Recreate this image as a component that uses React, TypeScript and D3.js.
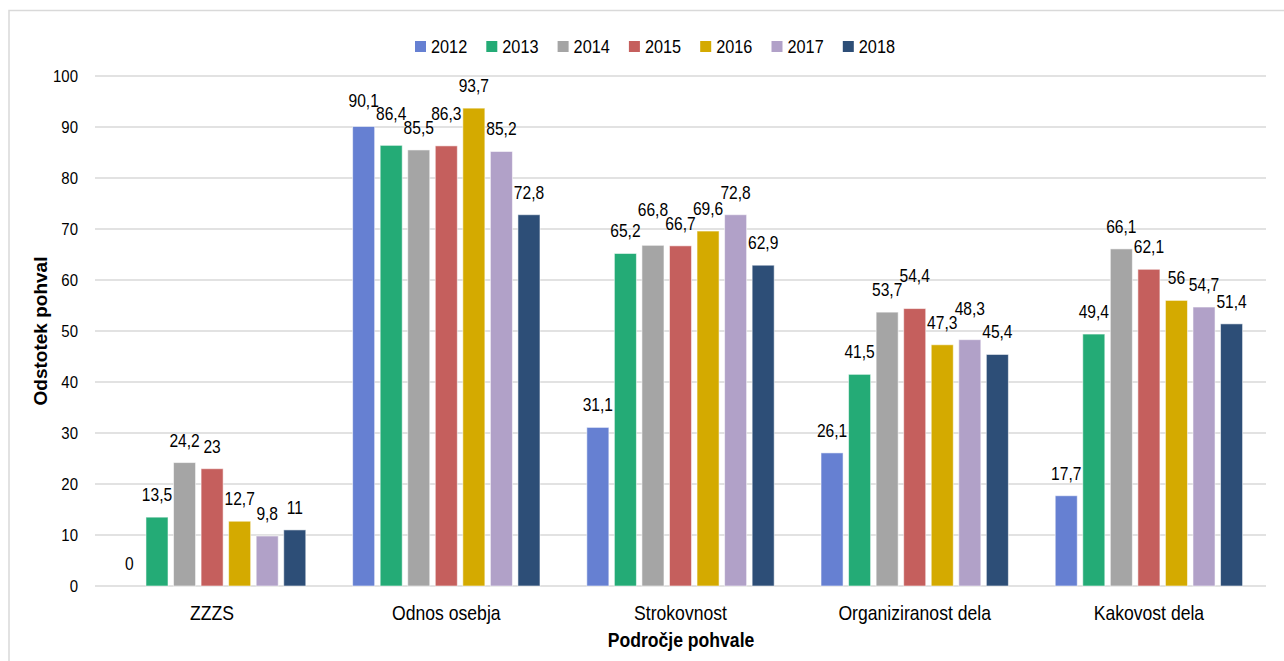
import React from "react";
import * as d3 from "d3";

const categories = ["ZZZS", "Odnos osebja", "Strokovnost", "Organiziranost dela", "Kakovost dela"];
const years = ["2012", "2013", "2014", "2015", "2016", "2017", "2018"];
const colors = ["#6680D2", "#24AB76", "#A5A5A5", "#C55F5D", "#D4AA00", "#B1A1C8", "#2D4E77"];
const v2012 = [0, 90.1, 31.1, 26.1, 17.7];
const v2013 = [13.5, 86.4, 65.2, 41.5, 49.4];
const v2014 = [24.2, 85.5, 66.8, 53.7, 66.1];
const v2015 = [23, 86.3, 66.7, 54.4, 62.1];
const v2016 = [12.7, 93.7, 69.6, 47.3, 56];
const v2017 = [9.8, 85.2, 72.8, 48.3, 54.7];
const v2018 = [11, 72.8, 62.9, 45.4, 51.4];
const series = [v2012, v2013, v2014, v2015, v2016, v2017, v2018];
const yTicks = [0, 10, 20, 30, 40, 50, 60, 70, 80, 90, 100];
const yTitle = "Odstotek pohval";
const xTitle = "Področje pohvale";

const W = 1284, H = 661;
const left = 95, right = 1266, top = 76, bottom = 586;
const SQ = 0.88;
const FONT = "'Liberation Sans', Arial, sans-serif";

const fmt = (v: number) => String(v).replace(".", ",");
const estWidth = (s: string, size: number) => {
  let w = 0;
  for (const c of s) w += c === "," ? 0.278 : 0.556;
  return w * size * SQ;
};

function T(props: { x: number; y: number; size: number; anchor?: string; weight?: string; children: any }) {
  const { x, y, size, anchor = "middle", weight = "normal", children } = props;
  return (
    <text transform={`translate(${x},${y}) scale(${SQ},1)`} fontSize={size} textAnchor={anchor}
      fontWeight={weight} fontFamily={FONT} fill="#000">{children}</text>
  );
}

export default function App() {
  const x0 = d3.scaleBand().domain(categories).range([left, right]).paddingInner(0).paddingOuter(0);
  const x1 = d3.scaleBand().domain(years).range([0, x0.bandwidth()]).paddingInner(0.2).paddingOuter(0.85);
  const y = d3.scaleLinear().domain([0, 100]).range([bottom, top]);

  const LS = 17.7;
  const CAP = 12.7;
  type Lab = { x: number; bl: number; w: number; text: string };
  const labels: Lab[] = [];
  categories.forEach((c, ci) => {
    const items = years.map((yr, si) => ({ si, v: series[si][ci] }));
    const order = [...items].sort((a, b) => a.v - b.v || a.si - b.si);
    const placed: Lab[] = [];
    order.forEach(({ si, v }) => {
      const text = fmt(v);
      const cx = (x0(c) as number) + (x1(years[si]) as number) + x1.bandwidth() / 2;
      const w = estWidth(text, LS) - 2;
      let bl = y(v) - 16;
      let moved = true;
      while (moved) {
        moved = false;
        for (const p of placed) {
          const xo = Math.min(cx + w / 2, p.x + p.w / 2) - Math.max(cx - w / 2, p.x - p.w / 2);
          const yo = Math.min(bl, p.bl) - Math.max(bl - CAP, p.bl - CAP);
          if (xo > 0 && yo > -1) {
            bl = p.bl - CAP - 1;
            moved = true;
          }
        }
      }
      const lab = { x: cx, bl, w, text };
      placed.push(lab);
      labels.push(lab);
    });
  });

  return (
    <svg width={W} height={H} style={{ position: "absolute", left: 0, top: 0, background: "#fff" }}>
      <rect x={9} y={10.5} width={1290} height={700} fill="none" stroke="#D9D9D9" strokeWidth={1.5} />
      {yTicks.map((t) => (
        <g key={t}>
          <line x1={left} x2={right} y1={y(t)} y2={y(t)} stroke="#D9D9D9" strokeWidth={1.3} />
          <T x={78} y={y(t) + 6} size={17} anchor="end">{t}</T>
        </g>
      ))}
      {categories.map((c, ci) => (
        <g key={c} transform={`translate(${x0(c)},0)`}>
          {years.map((yr, si) => (
            <rect key={yr} x={x1(yr)} width={x1.bandwidth()} y={y(series[si][ci])}
              height={y(0) - y(series[si][ci])} fill={colors[si]} stroke="#fff" strokeOpacity={0.55} strokeWidth={1} />
          ))}
          <T x={x0.bandwidth() / 2} y={619.5} size={20}>{c}</T>
        </g>
      ))}
      {labels.map((l, i) => (
        <T key={i} x={l.x} y={l.bl} size={LS}>{l.text}</T>
      ))}
      {years.map((yr, i) => (
        <g key={yr} transform={`translate(${415 + i * 71.3},0)`}>
          <rect x={0} y={41} width={11} height={11} fill={colors[i]} />
          <T x={16} y={53.3} size={18.5} anchor="start">{yr}</T>
        </g>
      ))}
      <T x={681} y={647} size={20} weight="bold">{xTitle}</T>
      <text transform="translate(46.5,331) rotate(-90)" fontSize={19} fontWeight="bold" fontFamily={FONT}
        textAnchor="middle" fill="#000">{yTitle}</text>
    </svg>
  );
}
